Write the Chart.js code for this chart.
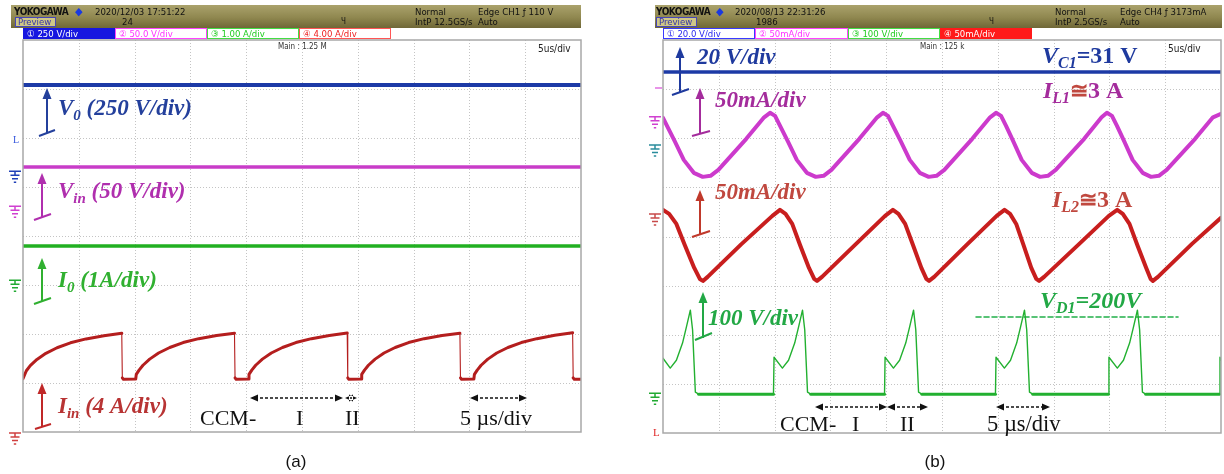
<!DOCTYPE html>
<html>
<head>
<meta charset="utf-8">
<script src="https://cdn.jsdelivr.net/npm/chart.js@4.4.1/dist/chart.umd.min.js"></script>
<style>
  html, body { margin: 0; padding: 0; background: #fff; }
  body { width: 1224px; height: 474px; position: relative; overflow: hidden; }
  canvas { position: absolute; top: 0; }
  .abs { position: absolute; white-space: nowrap; }
  .hdr { position: absolute; top: 5px; height: 23px;
         background: linear-gradient(to bottom, #aaa26c 0%, #8f874f 55%, #6f6737 100%); }
  .htxt { font-family: "Liberation Sans Narrow", "DejaVu Sans Condensed", "Liberation Sans", sans-serif;
          font-size: 9.5px; color: #111; font-stretch: condensed; }
  .chbox { position: absolute; top: 28px; height: 11px; box-sizing: border-box; border: 1px solid;
           font-family: "Liberation Sans Narrow", "DejaVu Sans Condensed", "Liberation Sans", "Noto Sans CJK SC", sans-serif;
           font-size: 9.5px; line-height: 9px; padding-left: 3px; white-space: nowrap; overflow: hidden; }
  .preview { position: absolute; top: 17px; height: 10px; width: 41px; box-sizing: border-box;
             border: 1px solid #4646b8; background: #cfc787; color: #3434a8;
             font-family: "Liberation Sans Narrow", "DejaVu Sans Condensed", "Liberation Sans", sans-serif;
             font-size: 9.5px; line-height: 8px; padding-left: 2px; }
  .cap { position: absolute; top: 450px; font-family: "Liberation Sans", Arial, sans-serif; font-size: 17px;
         line-height: 24px; color: #111; text-align: center; width: 40px; }
</style>
</head>
<body>
<canvas id="scopeA" width="612" height="474" style="left:0"></canvas>
<canvas id="scopeB" width="612" height="474" style="left:612px"></canvas>

<script>
// ---------------- waveform data ----------------
// Time axis of both screens: 10 divisions x 5 us
const timeSpanUs = [0, 50];

// Screen (a): DC levels
const v0Volts  = [440, 440];
const vinVolts = [40, 40];
const ioAmps   = [0.7, 0.7];

// Screen (a): input current Iin (A)
const iinTimeUs = [
  0, 0.3, 0.65, 1.25, 2.05, 3.05, 4.25, 5.65, 7.25, 8.85, 8.9, 9.0, 10.1,
  10.15, 10.4, 10.75, 11.35, 12.15, 13.15, 14.35, 15.75, 17.35, 18.95, 19.0, 19.1, 20.2,
  20.25, 20.5, 20.85, 21.45, 22.25, 23.25, 24.45, 25.85, 27.45, 29.05, 29.1, 29.2, 30.3,
  30.35, 30.6, 30.95, 31.55, 32.35, 33.35, 34.55, 35.95, 37.55, 39.15, 39.2, 39.3, 40.4,
  40.45, 40.7, 41.05, 41.65, 42.45, 43.45, 44.65, 46.05, 47.65, 49.25, 49.3, 49.4, 50
];
const iinAmps = [
  4.35, 5.0, 5.42, 5.92, 6.42, 6.88, 7.28, 7.6, 7.86, 8.06, 4.42, 4.3, 4.33,
  4.7, 5.05, 5.45, 5.95, 6.45, 6.9, 7.3, 7.62, 7.88, 8.07, 4.42, 4.3, 4.33,
  4.7, 5.05, 5.45, 5.95, 6.45, 6.9, 7.3, 7.62, 7.88, 8.08, 4.42, 4.3, 4.33,
  4.7, 5.05, 5.45, 5.95, 6.45, 6.9, 7.3, 7.62, 7.88, 8.06, 4.42, 4.3, 4.33,
  4.7, 5.05, 5.45, 5.95, 6.45, 6.9, 7.3, 7.62, 7.9, 8.1, 4.42, 4.3, 4.3
];

// Screen (b): capacitor voltage VC1 (V)
const vc1Volts = [31, 31];

// Screen (b): inductor current IL1 (mA on the probe scale)
const il1TimeUs = [
  0, 0.36, 1.06, 1.86, 2.76, 3.56, 4.26, 4.96, 7.46, 9.06, 9.59,
  10.04, 10.49, 11.19, 11.99, 12.89, 13.69, 14.39, 15.09, 17.59, 19.19, 19.71,
  20.16, 20.61, 21.31, 22.11, 23.01, 23.81, 24.51, 25.21, 27.71, 29.31, 29.84,
  30.29, 30.74, 31.39, 32.14, 33.04, 33.79, 34.49, 35.19, 37.74, 39.3, 39.78,
  40.23, 40.68, 41.33, 42.08, 42.98, 43.73, 44.43, 45.13, 47.68, 49.28, 50
];
const il1mA = [
  -1.0, -9.2, -25, -43.8, -57, -61.1, -60, -54, -22.4, -0.5, 4.1,
  1.0, -9.2, -25, -43.8, -57, -61.1, -60, -54, -22.4, -0.5, 4.1,
  1.0, -9.2, -25, -43.8, -57, -61.1, -60, -54, -22.4, -0.5, 4.1,
  1.0, -9.2, -25, -43.8, -57, -61.1, -60, -54, -22.4, -0.5, 4.1,
  1.0, -9.2, -25, -43.8, -57, -61.1, -60, -54, -22.4, -0.5, 3.0
];

// Screen (b): inductor current IL2 (mA on the probe scale)
const il2TimeUs = [
  0, 0.55, 1.2, 1.95, 2.8, 3.3, 3.58, 4.0, 7.0, 9.8, 10.48,
  10.98, 11.58, 12.28, 13.08, 13.55, 13.8, 14.25, 17.3, 19.9, 20.6,
  21.1, 21.7, 22.4, 23.15, 23.6, 23.84, 24.3, 27.3, 29.9, 30.6,
  31.1, 31.65, 32.3, 33.0, 33.45, 33.7, 34.15, 37.3, 39.95, 40.7,
  41.2, 41.8, 42.5, 43.3, 43.7, 43.9, 44.35, 47.4, 50
];
const il2mA = [
  4.1, 0, -10.2, -31.6, -55, -66.2, -68.2, -64.1, -31, -2, 4.1,
  0, -10.2, -31.6, -55, -66.2, -68.2, -64.1, -30.5, -2, 4.1,
  0, -10.2, -31.6, -55, -66.2, -68.2, -64.1, -30.5, -2, 4.1,
  0, -10.2, -31.6, -55, -66.2, -68.2, -64.1, -30.5, -2, 4.1,
  0, -10.2, -31.6, -55, -66.2, -68.2, -64.1, -30.5, -4
];

// Screen (b): diode voltage VD1 (V)
const vd1TimeUs = [
  0, 0.65, 1.2, 1.75, 2.1, 2.45, 2.65, 2.9, 3.2, 9.9,
  9.95, 10.7, 11.25, 11.8, 12.15, 12.5, 12.7, 12.95, 13.25, 19.85,
  19.9, 20.65, 21.2, 21.75, 22.1, 22.45, 22.65, 22.9, 23.2, 29.79,
  29.84, 30.59, 31.14, 31.69, 32.04, 32.39, 32.59, 32.84, 33.14, 39.91,
  39.96, 40.71, 41.26, 41.81, 42.16, 42.51, 42.71, 42.96, 43.26, 49.86,
  49.91, 50
];
const vd1Volts = [
  116, 96, 112, 147, 180, 214, 174, 47, 43, 43,
  118, 96, 112, 147, 180, 214, 174, 47, 43, 43,
  118, 96, 112, 147, 180, 214, 174, 47, 43, 43,
  118, 96, 112, 147, 180, 214, 174, 47, 43, 43,
  118, 96, 112, 147, 180, 214, 174, 47, 43, 43,
  118, 112
];
// Reference level marked on VD1
const vd1MarkTimeUs = [28.05, 46.15];
const vd1MarkVolts = [200, 200];

// ---------------- channel settings (units per division, ground in divisions) ----------------
const chanA = {
  v0:  { perDiv: 250, ground: 5.322 },
  vin: { perDiv: 50,  ground: 4.608 },
  io:  { perDiv: 1,   ground: 3.096 },
  iin: { perDiv: 4,   ground: 0 }
};
const chanB = {
  vc1: { perDiv: 20,  ground: 5.80 },
  il1: { perDiv: 50,  ground: 6.436 },
  il2: { perDiv: 50,  ground: 4.46 },
  vd1: { perDiv: 100, ground: 0.361 }
};

function toDivs(times, values, ch) {
  return times.map((t, i) => ({ x: t, y: ch.ground + values[i] / ch.perDiv }));
}

// ---------------- drawing helpers ----------------
const SERIF = '"Liberation Serif", "DejaVu Serif", serif';
const BI = s => `italic bold ${s}px ${SERIF}`;
const BD = s => `bold ${s}px ${SERIF}`;
const RG = s => `${s}px ${SERIF}`;

function rich(ctx, x, y, parts, color) {
  let cx = x;
  parts.forEach(p => {
    ctx.font = p.f;
    ctx.fillStyle = p.c || color;
    ctx.fillText(p.t, cx, y + (p.dy || 0));
    cx += ctx.measureText(p.t).width;
  });
}

function groundMark(ctx, cx, y, color) {
  ctx.save();
  ctx.strokeStyle = color; ctx.lineWidth = 1.5; ctx.setLineDash([]);
  ctx.beginPath();
  ctx.moveTo(cx - 6, y); ctx.lineTo(cx + 6, y);
  ctx.moveTo(cx, y); ctx.lineTo(cx, y + 4);
  ctx.moveTo(cx - 4.5, y + 4); ctx.lineTo(cx + 4.5, y + 4);
  ctx.moveTo(cx - 3, y + 7.5); ctx.lineTo(cx + 3, y + 7.5);
  ctx.moveTo(cx - 1.2, y + 11); ctx.lineTo(cx + 1.2, y + 11);
  ctx.stroke();
  ctx.restore();
}

function scaleArrow(ctx, x, yTop, yBot, foot, color) {
  ctx.save();
  ctx.strokeStyle = color; ctx.fillStyle = color; ctx.lineWidth = 2; ctx.setLineDash([]);
  ctx.beginPath();
  ctx.moveTo(x, yBot); ctx.lineTo(x, yTop + 8);
  ctx.moveTo(foot[0], foot[1]); ctx.lineTo(foot[2], foot[3]);
  ctx.stroke();
  ctx.beginPath();
  ctx.moveTo(x, yTop); ctx.lineTo(x - 4.5, yTop + 11); ctx.lineTo(x + 4.5, yTop + 11);
  ctx.closePath(); ctx.fill();
  ctx.restore();
}

function spanArrow(ctx, x1, x2, y) {
  ctx.save();
  ctx.strokeStyle = '#111'; ctx.fillStyle = '#111'; ctx.lineWidth = 1.6;
  ctx.setLineDash([3, 2]);
  ctx.beginPath(); ctx.moveTo(x1 + 5, y); ctx.lineTo(x2 - 5, y); ctx.stroke();
  ctx.setLineDash([]);
  ctx.beginPath();
  ctx.moveTo(x1, y); ctx.lineTo(x1 + 8, y - 3.5); ctx.lineTo(x1 + 8, y + 3.5); ctx.closePath();
  ctx.moveTo(x2, y); ctx.lineTo(x2 - 8, y - 3.5); ctx.lineTo(x2 - 8, y + 3.5); ctx.closePath();
  ctx.fill();
  ctx.restore();
}

// Dotted graticule and frame of a scope screen
const graticule = {
  id: 'graticule',
  beforeDatasetsDraw(chart) {
    const { ctx, chartArea: a, scales: { x, y } } = chart;
    ctx.save();
    ctx.strokeStyle = '#c4c4c4'; ctx.lineWidth = 1; ctx.setLineDash([1, 2]);
    ctx.beginPath();
    for (let i = 1; i < 10; i++) {
      const px = Math.round(x.getPixelForValue(i * 5)) + 0.5;
      ctx.moveTo(px, a.top); ctx.lineTo(px, a.bottom);
    }
    for (let j = 1; j < 8; j++) {
      const py = Math.round(y.getPixelForValue(j)) + 0.5;
      ctx.moveTo(a.left, py); ctx.lineTo(a.right, py);
    }
    ctx.stroke();
    ctx.restore();
  },
  afterDatasetsDraw(chart) {
    const { ctx, chartArea: a } = chart;
    ctx.save();
    ctx.strokeStyle = '#a8a8a8'; ctx.lineWidth = 1.5; ctx.setLineDash([]);
    ctx.strokeRect(a.left, a.top, a.right - a.left, a.bottom - a.top);
    ctx.restore();
  }
};

function scopeOptions(pad) {
  return {
    responsive: false,
    animation: false,
    devicePixelRatio: 1,
    layout: { padding: pad },
    parsing: true,
    plugins: { legend: { display: false }, tooltip: { enabled: false } },
    elements: { point: { radius: 0 }, line: { tension: 0, borderJoinStyle: 'round', borderCapStyle: 'round' } },
    scales: {
      x: { type: 'linear', min: timeSpanUs[0], max: timeSpanUs[1], display: false },
      y: { type: 'linear', min: 0, max: 8, display: false }
    }
  };
}

// Thin edges on fast transitions, full width elsewhere
const jumpWidth = (thick, thin, lim) => ctx =>
  Math.abs(ctx.p0.parsed.y - ctx.p1.parsed.y) > lim && Math.abs(ctx.p1.parsed.x - ctx.p0.parsed.x) < 0.2 ? thin : thick;

// ---------------- screen (a) ----------------
const decorA = {
  id: 'decorA',
  afterDraw(chart) {
    const ctx = chart.ctx, y = chart.scales.y;
    ctx.save();
    ctx.textBaseline = 'alphabetic';
    groundMark(ctx, 15, y.getPixelForValue(chanA.v0.ground), '#2040b8');
    groundMark(ctx, 15, y.getPixelForValue(chanA.vin.ground), '#d040d0');
    groundMark(ctx, 15, y.getPixelForValue(chanA.io.ground), '#22aa33');
    groundMark(ctx, 15, y.getPixelForValue(chanA.iin.ground) + 1, '#d04040');
    ctx.font = '10px ' + SERIF; ctx.fillStyle = '#3355dd'; ctx.fillText('L', 13, 143);

    scaleArrow(ctx, 47, 88, 134, [39, 136, 55, 130], '#24409c');
    scaleArrow(ctx, 42, 173, 217, [34, 220, 51, 214], '#b02fae');
    scaleArrow(ctx, 42, 258, 302, [34, 304, 51, 298], '#30b030');
    scaleArrow(ctx, 42, 383, 427, [35, 429, 51, 424], '#c02828');

    rich(ctx, 58, 115, [{ t: 'V', f: BI(23) }, { t: '0', f: BI(15), dy: 5 }, { t: ' (250 V/div)', f: BI(23) }], '#24409c');
    rich(ctx, 58, 198, [{ t: 'V', f: BI(23) }, { t: 'in', f: BI(15), dy: 5 }, { t: ' (50 V/div)', f: BI(23) }], '#b02fae');
    rich(ctx, 58, 287, [{ t: 'I', f: BI(23) }, { t: '0', f: BI(15), dy: 5 }, { t: ' (1A/div)', f: BI(23) }], '#30b030');
    rich(ctx, 58, 413, [{ t: 'I', f: BI(23) }, { t: 'in', f: BI(15), dy: 5 }, { t: ' (4 A/div)', f: BI(23) }], '#b83434');

    spanArrow(ctx, 250, 343, 398);
    spanArrow(ctx, 345, 357, 398);
    spanArrow(ctx, 470, 527, 398);
    rich(ctx, 200, 425, [{ t: 'CCM-', f: RG(22) }], '#111');
    rich(ctx, 296, 425, [{ t: 'I', f: RG(22) }], '#111');
    rich(ctx, 345, 425, [{ t: 'II', f: RG(22) }], '#111');
    rich(ctx, 460, 425, [{ t: '5 µs/div', f: RG(22) }], '#111');
    ctx.restore();
  }
};

new Chart(document.getElementById('scopeA'), {
  type: 'line',
  data: {
    datasets: [
      { data: toDivs(timeSpanUs, v0Volts, chanA.v0), borderColor: '#1c3aa6', borderWidth: 4 },
      { data: toDivs(timeSpanUs, vinVolts, chanA.vin), borderColor: '#c83cc8', borderWidth: 3.5 },
      { data: toDivs(timeSpanUs, ioAmps, chanA.io), borderColor: '#22b022', borderWidth: 3.5 },
      { data: toDivs(iinTimeUs, iinAmps, chanA.iin), borderColor: '#b41e1e', borderWidth: 3,
        segment: { borderWidth: jumpWidth(3, 1.1, 0.4) } }
    ]
  },
  options: scopeOptions({ left: 23, top: 40, right: 31, bottom: 42 }),
  plugins: [graticule, decorA]
});

// ---------------- screen (b) ----------------
const OX = 612; // canvas offset of screen (b) on the page
const decorB = {
  id: 'decorB',
  afterDraw(chart) {
    const ctx = chart.ctx, y = chart.scales.y;
    ctx.save();
    ctx.translate(-OX, 0);
    ctx.textBaseline = 'alphabetic';
    groundMark(ctx, 655, y.getPixelForValue(chanB.il1.ground), '#d040d0');
    groundMark(ctx, 655, y.getPixelForValue(chanB.vc1.ground) - 3, '#2a8c9c');
    groundMark(ctx, 655, y.getPixelForValue(chanB.il2.ground), '#c84a4a');
    groundMark(ctx, 655, y.getPixelForValue(0.81), '#22aa33');
    ctx.strokeStyle = '#e070e0'; ctx.lineWidth = 1.5;
    ctx.beginPath(); ctx.moveTo(655, 88); ctx.lineTo(662, 88); ctx.stroke();
    ctx.font = '11px ' + SERIF; ctx.fillStyle = '#e02828'; ctx.fillText('L', 653, 436);

    scaleArrow(ctx, 680, 47, 93, [672, 95, 689, 89], '#1f3a9e');
    scaleArrow(ctx, 700, 88, 134, [692, 136, 710, 131], '#a42c9c');
    scaleArrow(ctx, 700, 190, 235, [692, 237, 710, 231], '#c0392b');
    scaleArrow(ctx, 703, 292, 338, [695, 340, 712, 333], '#22a845');

    rich(ctx, 697, 64, [{ t: '20 V/div', f: BI(23) }], '#1f3a9e');
    rich(ctx, 1042, 63, [{ t: 'V', f: BI(24) }, { t: 'C1', f: BI(16), dy: 5 }, { t: '=31 V', f: BD(24) }], '#1f3a9e');
    rich(ctx, 715, 107, [{ t: '50mA/div', f: BI(23) }], '#a42c9c');
    rich(ctx, 715, 199, [{ t: '50mA/div', f: BI(23) }], '#c0483f');
    rich(ctx, 1043, 98, [{ t: 'I', f: BI(24) }, { t: 'L1', f: BI(16), dy: 5 },
      { t: '≅', f: BD(22), c: '#c0483f' }, { t: '3 A', f: BD(24) }], '#a42c9c');
    rich(ctx, 1052, 207, [{ t: 'I', f: BI(24) }, { t: 'L2', f: BI(16), dy: 5 },
      { t: '≅', f: BD(22) }, { t: '3 A', f: BD(24) }], '#c0483f');
    rich(ctx, 708, 325, [{ t: '100 V/div', f: BI(23) }], '#22a845');
    rich(ctx, 1040, 308, [{ t: 'V', f: BI(24) }, { t: 'D1', f: BI(16), dy: 5 }, { t: '=200V', f: BI(24) }], '#22a845');

    spanArrow(ctx, 815, 887, 407);
    spanArrow(ctx, 887, 928, 407);
    spanArrow(ctx, 996, 1050, 407);
    rich(ctx, 780, 431, [{ t: 'CCM-', f: RG(22) }], '#111');
    rich(ctx, 852, 431, [{ t: 'I', f: RG(22) }], '#111');
    rich(ctx, 900, 431, [{ t: 'II', f: RG(22) }], '#111');
    rich(ctx, 987, 431, [{ t: '5 µs/div', f: RG(22.5) }], '#111');
    ctx.restore();
  }
};

new Chart(document.getElementById('scopeB'), {
  type: 'line',
  data: {
    datasets: [
      { data: toDivs(timeSpanUs, vc1Volts, chanB.vc1), borderColor: '#1c3aa6', borderWidth: 3.5 },
      { data: toDivs(il1TimeUs, il1mA, chanB.il1), borderColor: '#cc3acc', borderWidth: 4 },
      { data: toDivs(il2TimeUs, il2mA, chanB.il2), borderColor: '#c81e1e', borderWidth: 4 },
      { data: toDivs(vd1TimeUs, vd1Volts, chanB.vd1), borderColor: '#22b030', borderWidth: 1.4,
        segment: { borderWidth: c => Math.abs(c.p0.parsed.y - c.p1.parsed.y) < 0.02 ? 3 : 1.4 } },
      { data: toDivs(vd1MarkTimeUs, vd1MarkVolts, chanB.vd1), borderColor: '#22b04a', borderWidth: 1.6,
        borderDash: [5, 3] }
    ]
  },
  options: scopeOptions({ left: 51, top: 40, right: 3, bottom: 41 }),
  plugins: [graticule, decorB]
});

// ---------------- instrument header bars and captions ----------------
function addDiv(cls, x, yc, text, css, h) {
  const el = document.createElement('div');
  el.className = 'abs ' + cls;
  const hh = h || 10;
  el.style.left = x + 'px';
  el.style.top = (yc - hh / 2) + 'px';
  el.style.height = hh + 'px';
  el.style.lineHeight = hh + 'px';
  if (css) Object.assign(el.style, css);
  el.textContent = text;
  document.body.appendChild(el);
  return el;
}
function header(x0, x1) {
  const el = document.createElement('div');
  el.className = 'hdr';
  el.style.left = x0 + 'px';
  el.style.width = (x1 - x0) + 'px';
  document.body.appendChild(el);
}
function chanBox(x0, x1, text, border, bg, color) {
  const el = document.createElement('div');
  el.className = 'chbox';
  Object.assign(el.style, { left: x0 + 'px', width: (x1 - x0) + 'px', borderColor: border, background: bg, color: color });
  el.textContent = text;
  document.body.appendChild(el);
}
function preview(x) {
  const el = document.createElement('div');
  el.className = 'preview';
  el.style.left = x + 'px';
  el.textContent = 'Preview';
  document.body.appendChild(el);
}

// screen (a) header
header(11, 581);
addDiv('htxt', 14, 12, 'YOKOGAWA', { fontWeight: 'bold', letterSpacing: '-0.5px', fontSize: '10px' });
addDiv('htxt', 75, 12, '◆', { color: '#1a3ae0', fontSize: '11px' });
addDiv('htxt', 95, 12, '2020/12/03 17:51:22');
preview(15);
addDiv('htxt', 122, 22, '24');
addDiv('htxt', 341, 22, 'Ч', { fontSize: '8px' });
addDiv('htxt', 415, 12, 'Normal');
addDiv('htxt', 415, 22, 'IntP 12.5GS/s');
addDiv('htxt', 478, 12, 'Edge CH1 ƒ 110 V');
addDiv('htxt', 478, 22, 'Auto');
chanBox(23, 115, '① 250 V/div', '#1616e0', '#1616e0', '#ffffff');
chanBox(115, 207, '② 50.0 V/div', '#ff44ff', '#ffffff', '#ff33ff');
chanBox(207, 299, '③ 1.00 A/div', '#44dd44', '#ffffff', '#22cc22');
chanBox(299, 391, '④ 4.00 A/div', '#ff5555', '#ffffff', '#ee2222');
addDiv('htxt', 278, 47, 'Main : 1.25 M', { fontSize: '8px', color: '#333' });
addDiv('htxt', 538, 49, '5us/div', { fontSize: '10px', color: '#222' }, 12);

// screen (b) header
header(655, 1222);
addDiv('htxt', 656, 12, 'YOKOGAWA', { fontWeight: 'bold', letterSpacing: '-0.5px', fontSize: '10px' });
addDiv('htxt', 716, 12, '◆', { color: '#1a3ae0', fontSize: '11px' });
addDiv('htxt', 735, 12, '2020/08/13 22:31:26');
preview(656);
addDiv('htxt', 756, 22, '1986');
addDiv('htxt', 989, 22, 'Ч', { fontSize: '8px' });
addDiv('htxt', 1055, 12, 'Normal');
addDiv('htxt', 1055, 22, 'IntP 2.5GS/s');
addDiv('htxt', 1120, 12, 'Edge CH4 ƒ 3173mA');
addDiv('htxt', 1120, 22, 'Auto');
chanBox(663, 755, '① 20.0 V/div', '#3a3aff', '#ffffff', '#2a2aee');
chanBox(755, 848, '② 50mA/div', '#ff44ff', '#ffffff', '#ff33ff');
chanBox(848, 940, '③ 100 V/div', '#44dd44', '#ffffff', '#22cc22');
chanBox(940, 1032, '④ 50mA/div', '#ff1a1a', '#ff1a1a', '#ffffff');
addDiv('htxt', 920, 47, 'Main : 125 k', { fontSize: '8px', color: '#333' });
addDiv('htxt', 1168, 49, '5us/div', { fontSize: '10px', color: '#222' }, 12);

// captions
const capA = document.createElement('div'); capA.className = 'cap'; capA.style.left = '276px'; capA.textContent = '(a)';
const capB = document.createElement('div'); capB.className = 'cap'; capB.style.left = '915px'; capB.textContent = '(b)';
document.body.appendChild(capA); document.body.appendChild(capB);
</script>
</body>
</html>
